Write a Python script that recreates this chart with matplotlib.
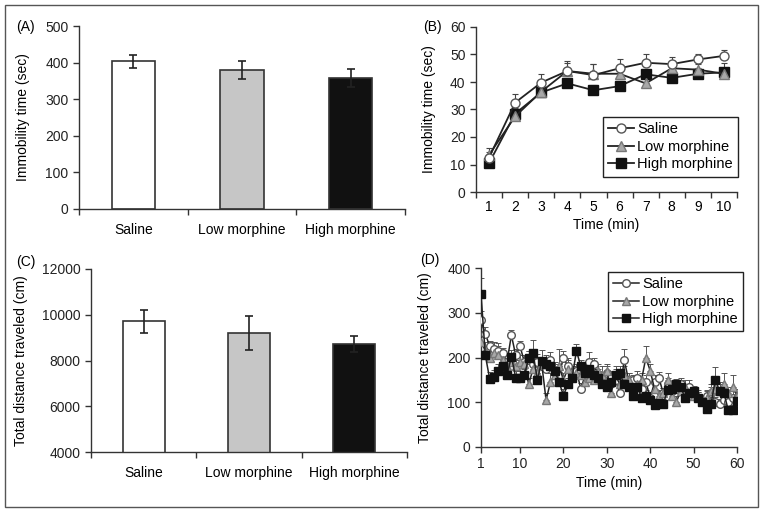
import matplotlib
matplotlib.use("Agg")
import matplotlib.pyplot as plt
from matplotlib.patches import Rectangle
import numpy as np

plt.rcParams['font.family'] = ['Liberation Sans', 'DejaVu Sans']
plt.rcParams['font.size'] = 10

# ---------------- data ----------------
groups = ["Saline", "Low morphine", "High morphine"]

# Panel A: total immobility time (sec)
immob_total = [404, 380, 358]
immob_total_err = [18, 25, 24]

# Panel B: immobility time per minute
minutes_b = [1, 2, 3, 4, 5, 6, 7, 8, 9, 10]
immob_saline = [12.5, 32.5, 39.8, 44.0, 42.5, 45.0, 47.0, 46.5, 48.2, 49.5]
immob_low = [13.5, 27.5, 36.5, 44.0, 43.0, 43.0, 39.5, 45.0, 44.5, 43.0]
immob_high = [10.5, 28.5, 36.2, 39.5, 37.0, 38.5, 42.8, 41.5, 43.0, 43.5]
immob_saline_err = [2.0, 3.0, 3.2, 3.0, 4.0, 3.5, 3.0, 2.5, 2.0, 2.0]
immob_low_err = [2.5, 2.0, 2.0, 3.5, 3.5, 2.5, 2.0, 2.0, 2.0, 2.0]
immob_high_err = [1.5, 2.0, 2.0, 2.0, 2.0, 2.0, 2.0, 2.0, 2.0, 3.5]

# Panel C: total distance traveled (cm)
dist_total = [9710, 9210, 8710]
dist_total_err = [495, 755, 350]

# Panel D: distance per minute (cm)
minutes_d = list(range(1, 61))
dist_saline = [283, 253, 225, 220, 215, 210, 190, 250, 205, 225,
               190, 195, 185, 190, 180, 175, 195, 170, 160, 200,
               180, 165, 170, 130, 160, 190, 185, 160, 150, 165,
               155, 150, 120, 195, 150, 150, 155, 130, 145, 110,
               145, 155, 120, 140, 125, 130, 140, 125, 135, 120,
               110, 105, 115, 120, 100, 95, 105, 100, 110, 110]
dist_low = [235, 215, 200, 210, 205, 195, 180, 190, 180, 190,
            185, 140, 175, 165, 185, 105, 145, 160, 180, 150,
            175, 160, 165, 160, 145, 155, 150, 170, 160, 170,
            120, 160, 140, 160, 150, 130, 140, 150, 200, 170,
            130, 115, 120, 150, 115, 100, 125, 135, 120, 115,
            115, 105, 110, 125, 130, 125, 140, 120, 135, 115]
dist_high = [342, 205, 152, 157, 170, 180, 160, 202, 155, 155,
             160, 200, 210, 150, 192, 185, 180, 170, 145, 115,
             140, 155, 215, 180, 165, 175, 160, 155, 140, 135,
             145, 160, 165, 140, 135, 113, 135, 110, 115, 105,
             93, 98, 95, 128, 130, 140, 135, 110, 120, 125,
             110, 100, 85, 95, 150, 125, 120, 82, 82, 102]
dist_saline_err = [20, 15, 12, 15, 18, 12, 15, 12, 15, 12,
                   15, 20, 15, 18, 15, 20, 18, 15, 22, 15,
                   18, 15, 15, 12, 15, 22, 15, 15, 12, 15,
                   15, 15, 12, 25, 15, 12, 15, 12, 15, 12,
                   15, 12, 12, 15, 12, 12, 15, 12, 15, 12,
                   12, 12, 12, 15, 12, 12, 15, 12, 15, 12]
dist_low_err = [25, 20, 15, 25, 20, 15, 15, 20, 15, 15,
                20, 15, 15, 20, 15, 15, 20, 15, 40, 15,
                20, 15, 15, 15, 15, 15, 25, 15, 20, 15,
                15, 20, 15, 20, 15, 15, 20, 15, 25, 15,
                15, 12, 12, 15, 12, 15, 15, 15, 15, 12,
                12, 12, 15, 15, 20, 20, 25, 15, 25, 15]
dist_high_err = [35, 20, 15, 15, 15, 15, 15, 15, 15, 15,
                 15, 15, 28, 15, 25, 20, 15, 20, 15, 15,
                 15, 15, 15, 15, 15, 15, 15, 15, 15, 15,
                 15, 15, 15, 15, 15, 12, 15, 12, 12, 12,
                 12, 12, 12, 12, 12, 12, 12, 12, 12, 12,
                 12, 12, 12, 12, 28, 15, 15, 12, 12, 12]

# ---------------- layout ----------------
W, H = 764, 513
fig = plt.figure(figsize=(W / 100, H / 100), dpi=100)

def px_axes(left, right, top, bottom):
    return fig.add_axes([left / W, 1 - bottom / H, (right - left) / W, (bottom - top) / H])

def fig_text(x, y, s, **kw):
    fig.text(x / W, 1 - y / H, s, **kw)

axis_col = '#333333'
bar_fc = ['white', '#c6c6c6', '#111111']

def style(ax):
    for s in ['top', 'right']:
        ax.spines[s].set_visible(False)
    for s in ['left', 'bottom']:
        ax.spines[s].set_color(axis_col)
        ax.spines[s].set_linewidth(1.0)
    ax.tick_params(colors=axis_col, labelcolor='#222222', length=4, width=1.0, direction='out')

def bar_panel(ax, vals, errs, ylim, yticks):
    x = np.arange(len(groups))
    ax.bar(x, vals, width=0.4, color=bar_fc, edgecolor=axis_col, linewidth=1.2, zorder=2)
    ax.errorbar(x, vals, yerr=errs, fmt='none', ecolor='#222222', elinewidth=1.2,
                capsize=3, capthick=1.2, zorder=3)
    ax.set_xlim(-0.5, 2.5)
    ax.set_ylim(*ylim)
    ax.set_yticks(yticks)
    ax.set_xticks([-0.5, 0.5, 1.5, 2.5])
    ax.set_xticklabels([])
    ax.set_xticks(x, minor=True)
    ax.set_xticklabels(groups, minor=True)
    style(ax)
    ax.tick_params(axis='x', which='minor', length=0, pad=10)

# Panel A
axA = px_axes(79, 405, 26, 209)
bar_panel(axA, immob_total, immob_total_err, (0, 500), [0, 100, 200, 300, 400, 500])
axA.set_ylabel("Immobility time (sec)")
axA.yaxis.set_label_coords(-0.15, 0.5)
fig_text(16, 27, "(A)", va='center', ha='left')

# Panel C
axC = px_axes(91, 407, 269, 452)
bar_panel(axC, dist_total, dist_total_err, (4000, 12000), [4000, 6000, 8000, 10000, 12000])
axC.set_ylabel("Total distance traveled (cm)")
axC.yaxis.set_label_coords(-0.2, 0.5)
fig_text(16, 262, "(C)", va='center', ha='left')

line_col = '#222222'
series_style = [
    dict(marker='o', mfc='white', mec='#555555', color=line_col),
    dict(marker='^', mfc='#a8a8a8', mec='#777777', color=line_col),
    dict(marker='s', mfc='#111111', mec='#111111', color=line_col),
]

# Panel B
axB = px_axes(476, 737, 27, 192)
b_series = [(immob_saline, immob_saline_err), (immob_low, immob_low_err), (immob_high, immob_high_err)]
for i in [2, 1, 0]:
    vals, errs = b_series[i]
    axB.errorbar(minutes_b, vals, yerr=[np.zeros(len(errs)), errs], fmt='none',
                 ecolor='#444444', elinewidth=0.8, capsize=2.5, capthick=0.8, zorder=2)
for i in [2, 1, 0]:
    vals, _ = b_series[i]
    axB.plot(minutes_b, vals, lw=1.3, ms=6.5, label=groups[i], zorder=3, **series_style[i])
axB.set_xlim(0.5, 10.5)
axB.set_ylim(0, 60)
axB.set_yticks(range(0, 61, 10))
axB.set_xticks(np.arange(0.5, 11, 1))
axB.set_xticklabels([])
axB.set_xticks(minutes_b, minor=True)
axB.set_xticklabels([str(m) for m in minutes_b], minor=True)
style(axB)
axB.tick_params(axis='x', which='minor', length=0, pad=6)
axB.set_xlabel("Time (min)", labelpad=3)
axB.set_ylabel("Immobility time (sec)")
axB.yaxis.set_label_coords(-0.155, 0.5)
fig_text(423, 27, "(B)", va='center', ha='left')
h, l = axB.get_legend_handles_labels()
legB = axB.legend(h[::-1], l[::-1], loc='upper left', bbox_to_anchor=(603 / W, 1 - 117 / H),
                  bbox_transform=fig.transFigure, borderaxespad=0, fancybox=False,
                  edgecolor='#222222', framealpha=1, handlelength=1.8, handletextpad=0.2,
                  labelspacing=0.25, borderpad=0.35, fontsize=10.5)
legB.get_frame().set_linewidth(1.0)

# Panel D
axD = px_axes(481, 737, 268, 447)
d_series = [(dist_saline, dist_saline_err), (dist_low, dist_low_err), (dist_high, dist_high_err)]
for i in [0, 1, 2]:
    vals, errs = d_series[i]
    axD.errorbar(minutes_d, vals, yerr=[np.zeros(len(errs)), errs], fmt='none',
                 ecolor='#555555', elinewidth=0.7, capsize=2, capthick=0.7, zorder=2)
for i in [0, 1, 2]:
    vals, _ = d_series[i]
    axD.plot(minutes_d, vals, lw=1.1, ms=5.5, label=groups[i], zorder=3 + i, **series_style[i])
axD.set_xlim(1, 60)
axD.set_ylim(0, 400)
axD.set_yticks([0, 100, 200, 300, 400])
axD.set_xticks([1, 10, 20, 30, 40, 50, 60])
style(axD)
axD.set_xlabel("Time (min)", labelpad=3)
axD.set_ylabel("Total distance traveled (cm)")
axD.yaxis.set_label_coords(-0.19, 0.5)
fig_text(420, 260, "(D)", va='center', ha='left')
legD = axD.legend(loc='upper left', bbox_to_anchor=(608 / W, 1 - 272 / H),
                  bbox_transform=fig.transFigure, borderaxespad=0, fancybox=False,
                  edgecolor='#222222', framealpha=1, handlelength=1.8, handletextpad=0.2,
                  labelspacing=0.25, borderpad=0.35, fontsize=10.5)
legD.get_frame().set_linewidth(1.0)

# outer frame
fig.patches.append(Rectangle((5 / W, 1 - 507 / H), 753 / W, 502 / H, transform=fig.transFigure,
                             fill=False, edgecolor='#555555', linewidth=1.0))

fig.savefig("out.png", dpi=100)
